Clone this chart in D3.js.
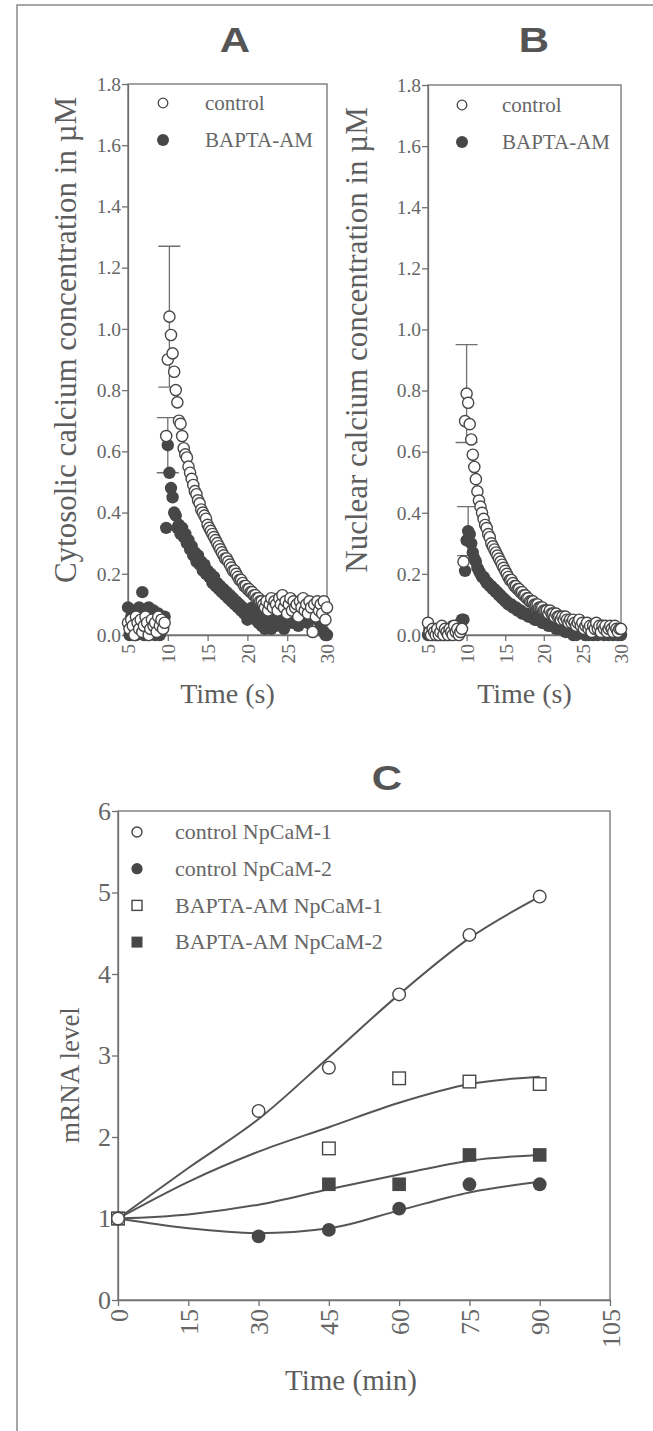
<!DOCTYPE html>
<html>
<head>
<meta charset="utf-8">
<script src="https://cdn.jsdelivr.net/npm/d3@7"></script>
<style>
  body { margin: 0; background: #fff; }
  svg { display: block; }
</style>
</head>
<body>
<svg id="fig" width="653" height="1431"></svg>
<script>
// ---------- Calcium imaging traces (frames every 0.2 s from 5 s to 30 s) ----------
const frameStart = 5;
const frameStep = 0.2;

const cytoControl = [
  0.04, 0.02, 0.05, 0.03, 0.00, 0.06, 0.04, 0.02, 0.05, 0.01, 0.03, 0.06, 0.04, 0.00, 0.02, 0.05, 0.03, 0.04, 0.01, 0.06, 0.03, 0.05, 0.02, 0.04,
  0.65, 0.90, 1.04, 0.98, 0.92, 0.86, 0.80, 0.76, 0.70, 0.69, 0.65, 0.61, 0.59, 0.58, 0.55, 0.53, 0.51, 0.49, 0.47, 0.46, 0.44, 0.43, 0.41, 0.40,
  0.39, 0.38, 0.36, 0.35, 0.34, 0.33, 0.32, 0.31, 0.30, 0.29, 0.28, 0.27, 0.26, 0.25, 0.25, 0.24, 0.23, 0.22, 0.21, 0.21, 0.20, 0.19, 0.18, 0.18,
  0.17, 0.16, 0.16, 0.15, 0.15, 0.14, 0.14, 0.13, 0.13, 0.12, 0.12, 0.11, 0.11,
  0.10, 0.09, 0.11, 0.08, 0.10, 0.12, 0.09, 0.11, 0.10, 0.08, 0.12, 0.10, 0.13, 0.09, 0.11, 0.07, 0.10, 0.12, 0.08, 0.11,
  0.09, 0.10, 0.06, 0.11, 0.09, 0.12, 0.08, 0.10, 0.07, 0.11, 0.09, 0.01, 0.10, 0.06, 0.11, 0.08, 0.10, 0.07, 0.11, 0.05, 0.09
];
const cytoBapta = [
  0.09, 0.00, 0.06, 0.08, 0.02, 0.00, 0.07, 0.09, 0.03, 0.14, 0.00, 0.08, 0.05, 0.09, 0.01, 0.06, 0.08, 0.00, 0.04, 0.07, 0.00, 0.05, 0.02, 0.06,
  0.35, 0.62, 0.53, 0.48, 0.45, 0.40, 0.39, 0.35, 0.36, 0.33, 0.35, 0.32, 0.33, 0.30, 0.31, 0.28, 0.29, 0.26, 0.27, 0.24, 0.26, 0.23, 0.24, 0.21,
  0.23, 0.20, 0.21, 0.19, 0.20, 0.17, 0.19, 0.16, 0.17, 0.15, 0.16, 0.14, 0.15, 0.13, 0.14, 0.12, 0.13, 0.11, 0.12, 0.10, 0.11, 0.09, 0.10, 0.08,
  0.09, 0.07, 0.08, 0.05,
  0.08, 0.06, 0.09, 0.07, 0.05, 0.08, 0.04, 0.06, 0.03, 0.07, 0.02, 0.05, 0.03, 0.08, 0.02, 0.04, 0.06, 0.03, 0.09, 0.05, 0.04, 0.07, 0.02, 0.06, 0.08,
  0.05, 0.10, 0.04, 0.07, 0.09, 0.06, 0.03, 0.08, 0.10, 0.05, 0.07, 0.09, 0.04, 0.08, 0.06, 0.10, 0.07, 0.09, 0.05, 0.08, 0.03, 0.06, 0.01, 0.00, 0.00
];
const nucControl = [
  0.04, 0.01, 0.00, 0.02, 0.01, 0.00, 0.02, 0.00, 0.01, 0.03, 0.00, 0.02, 0.01, 0.00, 0.02, 0.01, 0.00, 0.03, 0.01, 0.02, 0.00, 0.01,
  0.02, 0.24, 0.70, 0.79, 0.76, 0.69, 0.64, 0.59, 0.55, 0.51, 0.47, 0.44, 0.42, 0.40, 0.38, 0.36, 0.35, 0.33, 0.32, 0.30, 0.29, 0.28,
  0.27, 0.26, 0.25, 0.24, 0.23, 0.22, 0.21, 0.20, 0.19, 0.18, 0.18, 0.17, 0.16, 0.16, 0.15, 0.15, 0.14, 0.14, 0.13, 0.13, 0.12, 0.12,
  0.11, 0.11, 0.11, 0.10, 0.10, 0.10, 0.09, 0.09, 0.09, 0.08, 0.08, 0.08, 0.07, 0.08, 0.07, 0.07, 0.06, 0.07, 0.06, 0.06, 0.05, 0.06,
  0.05, 0.06, 0.05, 0.04, 0.05, 0.04, 0.05, 0.04, 0.03, 0.04, 0.05, 0.03, 0.04, 0.02, 0.03, 0.04, 0.02, 0.03, 0.01, 0.03, 0.02, 0.04,
  0.02, 0.03, 0.01, 0.03, 0.02, 0.03, 0.01, 0.02, 0.03, 0.02, 0.01, 0.03, 0.02, 0.01, 0.02, 0.02
];
const nucBapta = [
  0.00, 0.02, 0.01, 0.00, 0.01, 0.02, 0.00, 0.01, 0.00, 0.02, 0.01, 0.00, 0.02, 0.01, 0.00, 0.01, 0.03, 0.02, 0.01, 0.03, 0.02, 0.04,
  0.05, 0.05, 0.21, 0.31, 0.34, 0.33, 0.30, 0.27, 0.25, 0.24, 0.22, 0.21, 0.20, 0.19, 0.19, 0.18, 0.17, 0.17, 0.16, 0.16, 0.15, 0.15,
  0.14, 0.14, 0.13, 0.13, 0.12, 0.12, 0.11, 0.11, 0.10, 0.10, 0.10, 0.09, 0.09, 0.09, 0.08, 0.08, 0.08, 0.07, 0.07, 0.07, 0.07, 0.06,
  0.06, 0.06, 0.06, 0.05, 0.05, 0.05, 0.05, 0.05, 0.04, 0.04, 0.04, 0.04, 0.03, 0.04, 0.03, 0.03, 0.03, 0.02, 0.03, 0.02, 0.02, 0.03,
  0.02, 0.01, 0.02, 0.01, 0.01, 0.02, 0.00, 0.01, 0.00, 0.02, 0.03, 0.04, 0.03, 0.01, 0.00, 0.02, 0.00, 0.01, 0.03, 0.00, 0.02, 0.01,
  0.00, 0.02, 0.01, 0.03, 0.00, 0.01, 0.02, 0.00, 0.01, 0.02, 0.00, 0.01, 0.02, 0.00, 0.01, 0.00
];

// peak mean +/- SE: [time (s), mean, error]
const cytoControlErr = [10.2, 1.04, 0.23];
const cytoBaptaErr   = [10.0, 0.62, 0.09];
const nucControlErr  = [10.0, 0.79, 0.16];
const nucBaptaErr    = [10.2, 0.34, 0.08];

const caTicks = [0.0, 0.2, 0.4, 0.6, 0.8, 1.0, 1.2, 1.4, 1.6, 1.8];
const secTicks = [5, 10, 15, 20, 25, 30];
const caLegend = ["control", "BAPTA-AM"];

// ---------- mRNA time course ----------
const minTimes = [0, 30, 45, 60, 75, 90];
const ctlCaM1 = [1.0, 2.32, 2.85, 3.75, 4.48, 4.95];
const ctlCaM2 = [1.0, 0.78, 0.86, 1.12, 1.42, 1.42];
const bapCaM1 = [1.0, null, 1.86, 2.72, 2.68, 2.65];
const bapCaM2 = [1.0, null, 1.42, 1.42, 1.78, 1.78];

// smoothed trend lines
const fitTimes = [0, 15, 30, 45, 60, 75, 90];
const fitCtl1 = [1.0, 1.62, 2.22, 2.98, 3.75, 4.44, 4.95];
const fitBap1 = [1.0, 1.45, 1.82, 2.12, 2.42, 2.65, 2.74];
const fitBap2 = [1.0, 1.05, 1.17, 1.36, 1.54, 1.71, 1.78];
const fitCtl2 = [1.0, 0.88, 0.82, 0.88, 1.10, 1.32, 1.45];

const mrnaTicks = [0, 1, 2, 3, 4, 5, 6];
const minTicks = [0, 15, 30, 45, 60, 75, 90, 105];
const mrnaLegend = ["control NpCaM-1", "control NpCaM-2", "BAPTA-AM NpCaM-1", "BAPTA-AM NpCaM-2"];

// ---------- styling ----------
const axisCol = "#707070";
const textCol = "#666";
const labelCol = "#5d5d5d";
const dark = "#474747";
const serif = "'Liberation Serif','Times New Roman',serif";
const sans = "'Liberation Sans',Arial,sans-serif";

const svg = d3.select("#fig");

// outer frame
svg.append("path")
  .attr("d", "M17,1431 L17,5 L653,5")
  .attr("fill", "none").attr("stroke", "#8a8a8a").attr("stroke-width", 1.5);

function styleAxis(g, size) {
  g.attr("font-family", serif).attr("font-size", size);
  g.selectAll("path, line").attr("stroke", axisCol).attr("stroke-width", 1.3);
  g.selectAll("text").attr("fill", textCol);
}

function title(txt, x, y) {
  svg.append("text").text(txt)
    .attr("transform", `translate(${x},${y}) scale(1.2,1)`)
    .attr("text-anchor", "middle")
    .attr("font-family", sans).attr("font-weight", "bold")
    .attr("font-size", 35).attr("fill", "#555");
}

function calciumPanel(p) {
  const x = d3.scaleLinear().domain([5, 30]).range([p.x0, p.x1]);
  const y = d3.scaleLinear().domain([0, 1.8]).range([p.y1, p.y0]);
  const g = svg.append("g");

  g.append("rect")
    .attr("x", p.x0).attr("y", p.y0)
    .attr("width", p.x1 - p.x0).attr("height", p.y1 - p.y0)
    .attr("fill", "none").attr("stroke", axisCol).attr("stroke-width", 1.3);

  const ay = g.append("g").attr("transform", `translate(${p.x0},0)`)
    .call(d3.axisLeft(y).tickValues(caTicks).tickFormat(d3.format(".1f"))
      .tickSize(6).tickPadding(1).tickSizeOuter(0));
  styleAxis(ay, 19.5);

  const ax = g.append("g").attr("transform", `translate(0,${p.y1})`)
    .call(d3.axisBottom(x).tickValues(secTicks).tickSize(6).tickSizeOuter(0));
  styleAxis(ax, 19.5);
  ax.selectAll("text")
    .attr("transform", "rotate(-90)")
    .attr("x", -9).attr("y", 0).attr("dy", "0.35em")
    .attr("text-anchor", "end");

  // error bars sit behind the markers
  [p.errCtl, p.errBap].forEach(([t, m, e]) => {
    const cx = x(t);
    g.append("path")
      .attr("d", `M${cx},${y(m - e)}V${y(m + e)}M${cx - 11},${y(m + e)}H${cx + 11}M${cx - 11},${y(m - e)}H${cx + 11}`)
      .attr("fill", "none").attr("stroke", axisCol).attr("stroke-width", 1.3);
  });

  const toPts = arr => arr.map((v, i) => ({ t: frameStart + i * frameStep, v }));

  g.append("g").selectAll("circle").data(toPts(p.bapta)).join("circle")
    .attr("cx", d => x(d.t)).attr("cy", d => y(d.v)).attr("r", 6.2)
    .attr("fill", dark);

  g.append("g").selectAll("circle").data(toPts(p.control)).join("circle")
    .attr("cx", d => x(d.t)).attr("cy", d => y(d.v)).attr("r", 5.6)
    .attr("fill", "#fff").attr("stroke", dark).attr("stroke-width", 1.4);

  // legend
  const lg = g.append("g");
  caLegend.forEach((name, i) => {
    const ly = p.legY + i * 37;
    if (i === 0) {
      lg.append("circle").attr("cx", p.legX).attr("cy", ly).attr("r", 4.8)
        .attr("fill", "#fff").attr("stroke", dark).attr("stroke-width", 1.3);
    } else {
      lg.append("circle").attr("cx", p.legX).attr("cy", ly).attr("r", 6).attr("fill", dark);
    }
    lg.append("text").text(name)
      .attr("x", p.legText).attr("y", ly).attr("dy", "0.33em")
      .attr("font-family", serif).attr("font-size", 21).attr("fill", textCol);
  });

  // axis titles
  g.append("text").text(p.yLabel)
    .attr("transform", `translate(${p.yLabX},340) rotate(-90)`)
    .attr("text-anchor", "middle")
    .attr("font-family", serif).attr("font-size", 31).attr("fill", labelCol);
  g.append("text").text("Time (s)")
    .attr("x", (p.x0 + p.x1) / 2).attr("y", 703)
    .attr("text-anchor", "middle")
    .attr("font-family", serif).attr("font-size", 28).attr("fill", labelCol);
}

title("A", 235, 52);
title("B", 534, 52);
title("C", 387, 790);

calciumPanel({
  x0: 128, x1: 327, y0: 84, y1: 635,
  control: cytoControl, bapta: cytoBapta,
  errCtl: cytoControlErr, errBap: cytoBaptaErr,
  legX: 163, legY: 103, legText: 205,
  yLabel: "Cytosolic calcium concentration in \u00b5M", yLabX: 76
});

calciumPanel({
  x0: 428, x1: 621, y0: 85, y1: 635,
  control: nucControl, bapta: nucBapta,
  errCtl: nucControlErr, errBap: nucBaptaErr,
  legX: 462, legY: 105, legText: 502,
  yLabel: "Nuclear calcium concentration in \u00b5M", yLabX: 367
});

// ---------- panel C ----------
(function () {
  const x0 = 118, x1 = 610, y0 = 811, y1 = 1300;
  const x = d3.scaleLinear().domain([0, 105]).range([x0, x1]);
  const y = d3.scaleLinear().domain([0, 6]).range([y1, y0]);
  const g = svg.append("g");

  g.append("rect")
    .attr("x", x0).attr("y", y0).attr("width", x1 - x0).attr("height", y1 - y0)
    .attr("fill", "none").attr("stroke", axisCol).attr("stroke-width", 1.3);

  const ay = g.append("g").attr("transform", `translate(${x0},0)`)
    .call(d3.axisLeft(y).tickValues(mrnaTicks).tickFormat(d3.format("d"))
      .tickSize(6).tickPadding(1).tickSizeOuter(0));
  styleAxis(ay, 26);

  const ax = g.append("g").attr("transform", `translate(0,${y1})`)
    .call(d3.axisBottom(x).tickValues(minTicks).tickSize(6).tickSizeOuter(0));
  styleAxis(ax, 26);
  ax.selectAll("text")
    .attr("transform", "rotate(-90)")
    .attr("x", -9).attr("y", 0).attr("dy", "0.35em")
    .attr("text-anchor", "end");

  const line = d3.line().x((d, i) => x(fitTimes[i])).y(d => y(d)).curve(d3.curveMonotoneX);
  [fitCtl1, fitBap1, fitBap2, fitCtl2].forEach(f => {
    g.append("path").attr("d", line(f))
      .attr("fill", "none").attr("stroke", "#555").attr("stroke-width", 2);
  });

  const pts = arr => minTimes.map((t, i) => ({ t, v: arr[i] })).filter(d => d.v != null);

  function drawMarker(sel, kind, cx, cy, s) {
    if (kind === 0) {
      sel.append("circle").attr("cx", cx).attr("cy", cy).attr("r", s)
        .attr("fill", "#fff").attr("stroke", dark).attr("stroke-width", 1.4);
    } else if (kind === 1) {
      sel.append("circle").attr("cx", cx).attr("cy", cy).attr("r", s + 0.6).attr("fill", dark);
    } else if (kind === 2) {
      sel.append("rect").attr("x", cx - s).attr("y", cy - s).attr("width", 2 * s).attr("height", 2 * s)
        .attr("fill", "#fff").attr("stroke", dark).attr("stroke-width", 1.4);
    } else {
      sel.append("rect").attr("x", cx - s - 0.5).attr("y", cy - s - 0.5).attr("width", 2 * s + 1).attr("height", 2 * s + 1)
        .attr("fill", dark);
    }
  }

  const mg = g.append("g");
  [ctlCaM2, bapCaM2, bapCaM1, ctlCaM1].forEach(arr => {
    const kind = arr === ctlCaM1 ? 0 : arr === ctlCaM2 ? 1 : arr === bapCaM1 ? 2 : 3;
    pts(arr).forEach(d => drawMarker(mg, kind, x(d.t), y(d.v), 6.3));
  });

  const lg = g.append("g");
  mrnaLegend.forEach((name, i) => {
    const ly = 832 + i * 36.7;
    drawMarker(lg, i, 137, ly, 5);
    lg.append("text").text(name)
      .attr("x", 175).attr("y", ly).attr("dy", "0.33em")
      .attr("font-family", serif).attr("font-size", 22).attr("fill", textCol);
  });

  g.append("text").text("mRNA level")
    .attr("transform", `translate(79,1075) rotate(-90)`)
    .attr("text-anchor", "middle")
    .attr("font-family", serif).attr("font-size", 27).attr("fill", labelCol);
  g.append("text").text("Time (min)")
    .attr("x", 351).attr("y", 1390)
    .attr("text-anchor", "middle")
    .attr("font-family", serif).attr("font-size", 29).attr("fill", labelCol);
})();
</script>
</body>
</html>
